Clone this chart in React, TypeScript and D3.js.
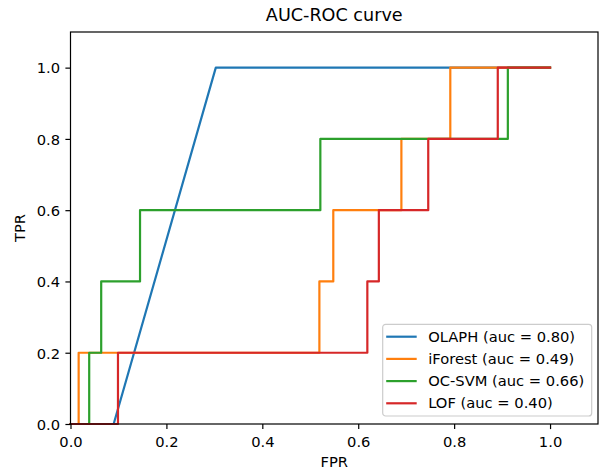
import React, { useEffect, useRef } from "react";
import * as d3 from "d3";

// ROC points (corners included)
const olaphFpr = [0, 0.09, 0.303, 1];
const olaphTpr = [0, 0, 1, 1];

const iforestFpr = [0, 0.017, 0.017, 0.519, 0.519, 0.548, 0.548, 0.69, 0.69, 0.792, 0.792, 1];
const iforestTpr = [0, 0, 0.2, 0.2, 0.4, 0.4, 0.6, 0.6, 0.8, 0.8, 1, 1];

const ocsvmFpr = [0, 0.039, 0.039, 0.064, 0.064, 0.145, 0.145, 0.521, 0.521, 0.912, 0.912, 1];
const ocsvmTpr = [0, 0, 0.2, 0.2, 0.4, 0.4, 0.6, 0.6, 0.8, 0.8, 1, 1];

const lofFpr = [0, 0.099, 0.099, 0.619, 0.619, 0.643, 0.643, 0.746, 0.746, 0.891, 0.891, 1];
const lofTpr = [0, 0, 0.2, 0.2, 0.4, 0.4, 0.6, 0.6, 0.8, 0.8, 1, 1];

const seriesNames = ["OLAPH", "iForest", "OC-SVM", "LOF"];
const aucValues = [0.8, 0.49, 0.66, 0.4];
const tickValues = [0, 0.2, 0.4, 0.6, 0.8, 1.0];

const colors = ["#1f77b4", "#ff7f0e", "#2ca02c", "#d62728"];
const font = "DejaVu Sans";

const App = () => {
  const ref = useRef<SVGSVGElement>(null);

  useEffect(() => {
    const svg = d3.select(ref.current);
    svg.selectAll("*").remove();

    const left = 70.5;
    const right = 598;
    const top = 32;
    const bottom = 424;

    const x = d3.scaleLinear().domain([0, 1.1]).range([left, right]);
    const y = d3.scaleLinear().domain([0, 1.1]).range([bottom, top]);

    const series = [
      [olaphFpr, olaphTpr],
      [iforestFpr, iforestTpr],
      [ocsvmFpr, ocsvmTpr],
      [lofFpr, lofTpr],
    ];

    const line = d3
      .line<[number, number]>()
      .x((d) => x(d[0]))
      .y((d) => y(d[1]));

    series.forEach(([fpr, tpr], i) => {
      const pts = fpr.map((f, j) => [f, tpr[j]] as [number, number]);
      svg
        .append("path")
        .attr("d", line(pts))
        .attr("fill", "none")
        .attr("stroke", colors[i])
        .attr("stroke-width", 2.2)
        .attr("stroke-linejoin", "round")
        .attr("stroke-linecap", "square");
    });

    // axes
    const xAxis = d3
      .axisBottom(x)
      .tickValues(tickValues)
      .tickFormat(d3.format(".1f"))
      .tickSize(5.1)
      .tickSizeOuter(0);
    const gx = svg.append("g").attr("transform", `translate(0, ${bottom})`).call(xAxis);
    gx.select(".domain").remove();
    gx.selectAll("line").attr("stroke", "#000").attr("stroke-width", 1.2);
    gx.selectAll("text")
      .attr("y", 22.5)
      .attr("dy", 0)
      .attr("fill", "#000")
      .style("font-family", font)
      .style("font-size", "14.7px");

    const yAxis = d3
      .axisLeft(y)
      .tickValues(tickValues)
      .tickFormat(d3.format(".1f"))
      .tickSize(5.1)
      .tickSizeOuter(0);
    const gy = svg.append("g").attr("transform", `translate(${left}, 0)`).call(yAxis);
    gy.select(".domain").remove();
    gy.selectAll("line").attr("stroke", "#000").attr("stroke-width", 1.2);
    gy.selectAll("text")
      .attr("x", -10.5)
      .attr("dy", "0.36em")
      .attr("fill", "#000")
      .style("font-family", font)
      .style("font-size", "14.7px");

    // spines
    svg
      .append("rect")
      .attr("x", left)
      .attr("y", top)
      .attr("width", right - left)
      .attr("height", bottom - top)
      .attr("fill", "none")
      .attr("stroke", "#000")
      .attr("stroke-width", 1.2);

    // title and labels
    svg
      .append("text")
      .text("AUC-ROC curve")
      .attr("x", (left + right) / 2)
      .attr("y", 21)
      .attr("text-anchor", "middle")
      .style("font-family", font)
      .style("font-size", "17.6px");

    svg
      .append("text")
      .text("FPR")
      .attr("x", (left + right) / 2)
      .attr("y", 467)
      .attr("text-anchor", "middle")
      .style("font-family", font)
      .style("font-size", "14.7px");

    svg
      .append("text")
      .text("TPR")
      .attr("transform", `translate(25, ${(top + bottom) / 2}) rotate(-90)`)
      .attr("text-anchor", "middle")
      .style("font-family", font)
      .style("font-size", "14.7px");

    // legend
    const lg = svg.append("g").attr("transform", `translate(${right - 215.3}, ${bottom - 99.7})`);
    lg.append("rect")
      .attr("width", 209)
      .attr("height", 91.7)
      .attr("rx", 3)
      .attr("fill", "white")
      .attr("fill-opacity", 0.8)
      .attr("stroke", "#cccccc")
      .attr("stroke-width", 1.2);

    seriesNames.forEach((name, i) => {
      const cy = 12.4 + i * 22.2;
      lg.append("line")
        .attr("x1", 3.5)
        .attr("x2", 34)
        .attr("y1", cy)
        .attr("y2", cy)
        .attr("stroke", colors[i])
        .attr("stroke-width", 2.2);
      lg.append("text")
        .text(`${name} (auc = ${aucValues[i].toFixed(2)})`)
        .attr("x", 45.5)
        .attr("y", cy + 5.2)
        .style("font-family", font)
        .style("font-size", "14.7px");
    });
  }, []);

  return (
    <svg
      ref={ref}
      width={599}
      height={472}
      style={{ position: "fixed", left: 0, top: 0, background: "white" }}
    />
  );
};

export default App;
